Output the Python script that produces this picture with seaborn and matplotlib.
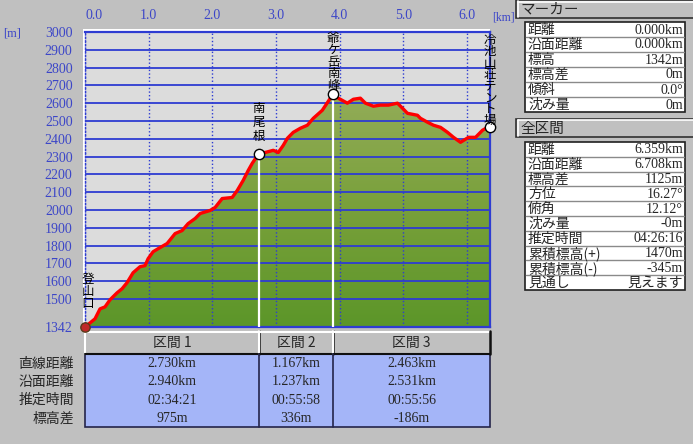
import numpy as np
import pandas as pd
import matplotlib
matplotlib.use("Agg")
import matplotlib.pyplot as plt
import seaborn as sns
from matplotlib.patches import Rectangle
from matplotlib.colors import LinearSegmentedColormap
from matplotlib.transforms import blended_transform_factory

# ---------------- data ----------------
dist_km = [0.000, 0.157, 0.236, 0.314, 0.393, 0.503, 0.582, 0.660, 0.755, 0.865,
           0.943, 0.991, 1.069, 1.148, 1.289, 1.415, 1.525, 1.619, 1.730, 1.808,
           1.965, 2.044, 2.154, 2.311, 2.390, 2.484, 2.563, 2.626, 2.730, 2.830,
           2.956, 3.035, 3.113, 3.176, 3.270, 3.381, 3.491, 3.585, 3.726, 3.852,
           3.897, 3.978, 4.119, 4.214, 4.324, 4.403, 4.528, 4.638, 4.764, 4.906,
           4.984, 5.063, 5.220, 5.267, 5.377, 5.472, 5.582, 5.692, 5.786, 5.896,
           6.022, 6.132, 6.242, 6.321, 6.359]
elev_m = [1342, 1388, 1444, 1455, 1495, 1534, 1557, 1591, 1647, 1681,
          1687, 1726, 1765, 1782, 1811, 1867, 1884, 1923, 1952, 1980,
          1997, 2014, 2064, 2070, 2109, 2166, 2222, 2262, 2317, 2323,
          2335, 2323, 2363, 2402, 2436, 2459, 2476, 2515, 2560, 2628,
          2653, 2628, 2600, 2622, 2628, 2600, 2583, 2589, 2589, 2600,
          2572, 2543, 2532, 2515, 2493, 2476, 2464, 2436, 2408, 2380,
          2408, 2408, 2448, 2464, 2467]

marker_km = [2.730, 3.897, 6.359]
marker_elev = [2317, 2653, 2467]
marker_names = ["南尾根", "爺ケ岳南峰", "冷池山荘テント場"]
start_name = "登山口"

x_ticks = [0, 1, 2, 3, 4, 5, 6]
x_tick_labels = ["0.0", "1.0", "2.0", "3.0", "4.0", "5.0", "6.0"]
y_ticks = [1342, 1500, 1600, 1700, 1800, 1900, 2000, 2100, 2200, 2300,
           2400, 2500, 2600, 2700, 2800, 2900, 3000]
y_max = 3000

section_names = ["区間 1", "区間 2", "区間 3"]
section_bounds = [0.0, 2.730, 3.897, 6.359]
row_labels = ["直線距離", "沿面距離", "推定時間", "標高差"]
sec_straight = ["2.730km", "1.167km", "2.463km"]
sec_surface = ["2.940km", "1.237km", "2.531km"]
sec_time = ["02:34:21", "00:55:58", "00:55:56"]
sec_diff = ["975m", "336m", "-186m"]

marker_title = "マーカー"
marker_labels = ["距離", "沿面距離", "標高", "標高差", "傾斜", "沈み量"]
marker_values = ["0.000km", "0.000km", "1342m", "0m", "0.0°", "0m"]

total_title = "全区間"
total_labels = ["距離", "沿面距離", "標高差", "方位", "俯角", "沈み量",
                "推定時間", "累積標高(+)", "累積標高(-)", "見通し"]
total_values = ["6.359km", "6.708km", "1125m", "16.27°", "12.12°", "-0m",
                "04:26:16", "1470m", "-345m", "見えます"]

# ---------------- style ----------------
sns.set_theme(style="white")
JP = ["Noto Sans CJK JP", "DejaVu Sans"]
NUM = ["Liberation Serif", "Noto Sans CJK JP"]
plt.rcParams["font.family"] = JP

BG = "#C0C0C0"
PLOT_BG = "#DCDCDC"
BLUE = "#2E3CD2"
LABEL_BLUE = "#3C46C8"
W, H = 693, 444
PX = 72 / 100  # points per pixel

fig = plt.figure(figsize=(W / 100, H / 100), dpi=100, facecolor=BG)
ov = fig.add_axes([0, 0, 1, 1])
ov.set_xlim(0, W)
ov.set_ylim(H, 0)
ov.axis("off")

L, T, R, B = 85, 32, 490, 327
ax = fig.add_axes([L / W, 1 - B / H, (R - L) / W, (B - T) / H])
ax.set_facecolor(PLOT_BG)

# white bevel top/left of plot
ov.add_patch(Rectangle((L - 2.5, T - 2.5), R - L + 2.5, B - T + 2.5,
                       facecolor="white", edgecolor="none", zorder=0))

df = pd.DataFrame({"km": dist_km, "elev": elev_m})

# gradient fill under profile
poly = ax.fill_between(df["km"], df["elev"], y_ticks[0], color="none", linewidth=0)
cmap = LinearSegmentedColormap.from_list("g", ["#5C9629", "#78A03A", "#93AC58"])
grad = np.linspace(0, 1, 256).reshape(-1, 1)
im = ax.imshow(grad, extent=[0, max(dist_km), y_ticks[0], max(elev_m)],
               origin="lower", aspect="auto", cmap=cmap, zorder=1)
im.set_clip_path(poly.get_paths()[0], transform=ax.transData)

ax.set_xlim(0, max(dist_km))
ax.set_ylim(y_ticks[0], y_max)

# grid
ax.set_axisbelow(False)
ax.set_yticks(y_ticks)
ax.set_yticklabels([str(v) for v in y_ticks])
ax.set_xticks(x_ticks)
ax.set_xticklabels(x_tick_labels)
ax.yaxis.grid(True, color=BLUE, linewidth=1.3, zorder=2)
ax.xaxis.grid(True, color=BLUE, linewidth=1.0, linestyle=(0, (1, 1.6)), zorder=2)
ax.xaxis.tick_top()
ax.tick_params(axis="x", length=0, pad=7, labelsize=10, labelcolor=LABEL_BLUE,
               top=True, bottom=False, labeltop=True, labelbottom=False)
ax.tick_params(axis="y", length=0, pad=9, labelsize=10, labelcolor=LABEL_BLUE)
for lab in ax.get_xticklabels() + ax.get_yticklabels():
    lab.set_fontfamily(NUM)
ax.get_xticklabels()[0].set_horizontalalignment("left")
for s in ax.spines.values():
    s.set_color(BLUE)
    s.set_linewidth(1.6)
ax.spines["left"].set_linestyle((0, (1, 1.6)))
ax.spines["left"].set_linewidth(1.0)

# white vertical marker lines
for k, e in zip(marker_km[:-1], marker_elev[:-1]):
    ax.vlines(k, y_ticks[0], e, color="white", linewidth=1.6, zorder=3.5)

# profile line
sns.lineplot(data=df, x="km", y="elev", ax=ax, color="#FF0000", linewidth=2.4,
             sort=False, estimator=None, zorder=4)
ax.set_xlabel("")
ax.set_ylabel("")

# markers
sns.scatterplot(x=marker_km, y=marker_elev, ax=ax, s=55, color="white",
                edgecolor="black", linewidth=1.0, zorder=6, clip_on=False)
# start icon (hiker)
ax.scatter([dist_km[0]], [elev_m[0]], s=45, color="#C02828", edgecolor="#5A3A1A",
           linewidth=1.0, zorder=6, clip_on=False)


# vertical labels, one character per line
def vlabel(text, k, e, dx_px, gap_px, step_px):
    n = len(text)
    for i, ch in enumerate(text):
        dy = gap_px + (n - 1 - i) * step_px
        ax.annotate(ch, (k, e), xytext=(dx_px * PX, dy * PX), textcoords="offset points",
                    ha="center", va="center", fontsize=9, color="black",
                    annotation_clip=False, zorder=7, family=JP)


label_gap = [17, 8, 6]
label_step = [14, 11.8, 11.5]
for name, k, e, g, st in zip(marker_names, marker_km, marker_elev, label_gap, label_step):
    vlabel(name, k, e, 0, g, st)
vlabel(start_name, dist_km[0], elev_m[0], 3, 24, 12)

# axis unit labels
ov.text(492, 17, "[km]", ha="left", va="center", fontsize=8.5, color=LABEL_BLUE,
        family=NUM, zorder=5)
ov.text(3, 33, "[m]", ha="left", va="center", fontsize=9, color=LABEL_BLUE, family=NUM)

# ---------------- section table ----------------
bt = blended_transform_factory(ax.transData, ov.transData)
hy0, hy1, dy1 = 331, 354, 427
ov.add_patch(Rectangle((section_bounds[0], hy1), section_bounds[-1] - section_bounds[0],
                       dy1 - hy1, transform=bt, facecolor="#A4B5F8",
                       edgecolor="#24244A", linewidth=1.2, clip_on=False, zorder=2))
for i, name in enumerate(section_names):
    x0, x1 = section_bounds[i], section_bounds[i + 1]
    ov.add_patch(Rectangle((x0, hy0), x1 - x0, hy1 - hy0, transform=bt,
                           facecolor=BG, edgecolor="none", clip_on=False, zorder=2))
    ov.plot([x0, x0], [hy1, hy0], transform=bt, color="white", lw=1.5, zorder=3, clip_on=False)
    ov.plot([x0, x1], [hy0 + 0.5, hy0 + 0.5], transform=bt, color="white", lw=1.5, zorder=3, clip_on=False)
    ov.plot([x1, x1], [hy0, hy1], transform=bt, color="#101010", lw=1.8, zorder=3, clip_on=False)
    ov.plot([x0, x1], [hy1, hy1], transform=bt, color="#101010", lw=1.5, zorder=3, clip_on=False)
    if i > 0:
        ov.plot([x0, x0], [hy1, dy1], transform=bt, color="#24244A", lw=1.2, zorder=3, clip_on=False)
    xc = (x0 + x1) / 2
    ov.text(xc, (hy0 + hy1) / 2 + 0.5, name, transform=bt, ha="center", va="center",
            fontsize=10, family=JP, zorder=4, clip_on=False)
    for r, vals in enumerate([sec_straight, sec_surface, sec_time, sec_diff]):
        ov.text(xc, 363.5 + r * 18.3, vals[i], transform=bt, ha="center", va="center",
                fontsize=10, family=NUM, zorder=4, clip_on=False)
for r, lab in enumerate(row_labels):
    ov.text(74, 363.5 + r * 18.3, lab, ha="right", va="center", fontsize=10, family=JP)


# ---------------- right panels ----------------
def header(y0, y1, title):
    ov.add_patch(Rectangle((516, y0), W - 516 + 2, y1 - y0, facecolor=BG,
                           edgecolor="#303030", linewidth=1.2, zorder=2))
    ov.plot([517.5, 517.5], [y1 - 1, y0 + 1], color="white", lw=1.2, zorder=3)
    ov.plot([517.5, W], [y0 + 1.2, y0 + 1.2], color="white", lw=1.2, zorder=3)
    ov.text(520, (y0 + y1) / 2 + 0.5, title, ha="left", va="center",
            fontsize=10.5, family=JP, zorder=4)


def table(y0, rowh, labels, values):
    n = len(labels)
    ov.add_patch(Rectangle((525, y0), 160, rowh * n, facecolor="white",
                           edgecolor="#202020", linewidth=1.2, zorder=2))
    for i in range(1, n):
        ov.plot([526, 684], [y0 + i * rowh, y0 + i * rowh], color="#8A8A8A",
                lw=1.0, zorder=3)
    for i, (lab, val) in enumerate(zip(labels, values)):
        yc = y0 + (i + 0.5) * rowh + 0.5
        ov.text(528, yc, lab, ha="left", va="center", fontsize=10, family=JP, zorder=4)
        ov.text(683, yc, val, ha="right", va="center", fontsize=10, family=NUM, zorder=4)


header(0.5, 18, marker_title)
table(22, 15.0, marker_labels, marker_values)
header(119, 137, total_title)
table(142, 14.8, total_labels, total_values)

fig.savefig("out.png", dpi=100, facecolor=BG)
